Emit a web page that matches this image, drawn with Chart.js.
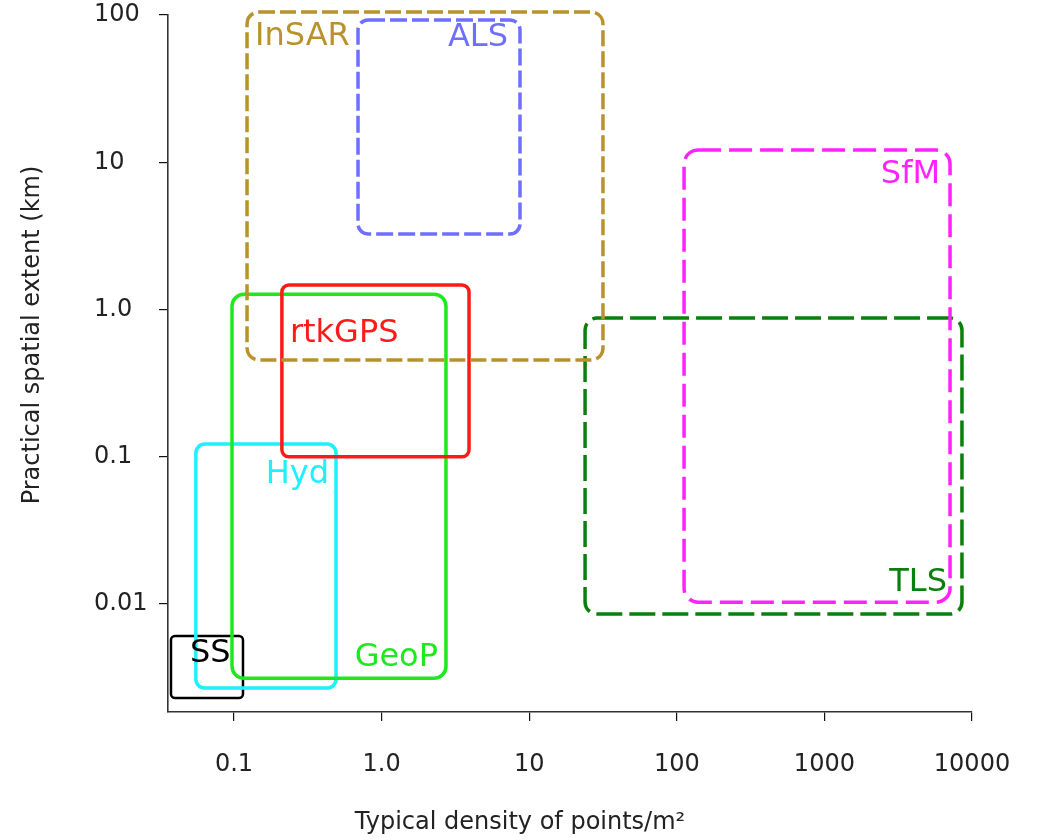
<!DOCTYPE html>
<html>
<head>
<meta charset="utf-8">
<script src="https://cdn.jsdelivr.net/npm/chart.js@4.4.0/dist/chart.umd.min.js"></script>
<style>
  html, body { margin: 0; padding: 0; background: #ffffff; }
  #wrap { width: 1038px; height: 840px; position: relative; }
</style>
</head>
<body>
<div id="wrap"><canvas id="c" width="1038" height="840"></canvas></div>
<script>
// ---- Data ----
const methods    = ['SS', 'Hyd', 'GeoP', 'rtkGPS', 'TLS', 'InSAR', 'ALS', 'SfM'];
const densityMin = [0.0374, 0.0551, 0.0969, 0.211, 23.9, 0.1225, 0.692, 112];
const densityMax = [0.115, 0.491, 2.73, 3.91, 8550, 31.6, 8.66, 7100];
const extentMin  = [0.0023, 0.00269, 0.00314, 0.1, 0.00855, 0.454, 3.26, 0.0103];
const extentMax  = [0.00607, 0.122, 1.27, 1.47, 0.875, 104.8, 92.5, 12.1];

const xTickValues = [0.1, 1, 10, 100, 1000, 10000];
const xTickLabels = ['0.1', '1.0', '10', '100', '1000', '10000'];
const yTickValues = [0.01, 0.1, 1, 10, 100];
const yTickLabels = ['0.01', '0.1', '1.0', '10', '100'];

const xTitle = 'Typical density of points/m²';
const yTitle = 'Practical spatial extent (km)';

// ---- Styles ----
const styles = {
  SS:     { color: '#000000', dash: [],       width: 2.5, radius: 4,  corner: 'tl', dx: 19,  dy: 26 },
  Hyd:    { color: '#1ff0ff', dash: [],       width: 3.5, radius: 9,  corner: 'tr', dx: -7,  dy: 39 },
  GeoP:   { color: '#1ee81e', dash: [],       width: 3.5, radius: 12, corner: 'br', dx: -8,  dy: -12 },
  rtkGPS: { color: '#ff1a1a', dash: [],       width: 3.5, radius: 7,  corner: 'tl', dx: 8,   dy: 57 },
  TLS:    { color: '#0b7f0b', dash: [26, 7],  width: 3.5, radius: 12, corner: 'br', dx: -15, dy: -23 },
  InSAR:  { color: '#b8922a', dash: [16, 5],  width: 3.5, radius: 12, corner: 'tl', dx: 8,   dy: 33 },
  ALS:    { color: '#6e6eff', dash: [17, 5],  width: 3.5, radius: 10, corner: 'tr', dx: -12, dy: 26 },
  SfM:    { color: '#ff22ff', dash: [23, 8],  width: 3.5, radius: 14, corner: 'tr', dx: -10, dy: 33 }
};

const FONT = '"DejaVu Sans", Verdana, sans-serif';

const datasets = methods.map((m, i) => ({
  label: m,
  data: [
    { x: densityMin[i], y: extentMin[i] },
    { x: densityMax[i], y: extentMax[i] }
  ],
  showLine: false,
  pointRadius: 0,
  pointHoverRadius: 0,
  borderColor: styles[m].color,
  backgroundColor: styles[m].color
}));

// Draws each dataset's extent as a rounded rectangle between its two corner points
const rangeBoxes = {
  id: 'rangeBoxes',
  afterDatasetsDraw(chart) {
    const ctx = chart.ctx;
    const boxes = [];
    chart.data.datasets.forEach((ds, i) => {
      const meta = chart.getDatasetMeta(i);
      const p0 = meta.data[0], p1 = meta.data[1];
      const L = Math.min(p0.x, p1.x), R = Math.max(p0.x, p1.x);
      const T = Math.min(p0.y, p1.y), B = Math.max(p0.y, p1.y);
      const s = styles[ds.label];
      ctx.save();
      ctx.strokeStyle = s.color;
      ctx.lineWidth = s.width;
      ctx.setLineDash(s.dash);
      ctx.beginPath();
      ctx.roundRect(L, T, R - L, B - T, s.radius);
      ctx.stroke();
      ctx.restore();
      boxes.push({ L, R, T, B, s, label: ds.label });
    });
    boxes.forEach(b => {
      ctx.save();
      ctx.font = '32px ' + FONT;
      ctx.fillStyle = b.s.color;
      ctx.textBaseline = 'alphabetic';
      let x, y;
      if (b.s.corner === 'tl') { ctx.textAlign = 'left';  x = b.L + b.s.dx; y = b.T + b.s.dy; }
      else if (b.s.corner === 'tr') { ctx.textAlign = 'right'; x = b.R + b.s.dx; y = b.T + b.s.dy; }
      else { ctx.textAlign = 'right'; x = b.R + b.s.dx; y = b.B + b.s.dy; }
      ctx.fillText(b.label, x, y);
      ctx.restore();
    });
    // axis titles
    ctx.save();
    ctx.fillStyle = '#222222';
    ctx.font = '24px ' + FONT;
    ctx.textAlign = 'center';
    ctx.textBaseline = 'middle';
    ctx.fillText(xTitle, 520, 823);
    ctx.translate(33, 335);
    ctx.rotate(-Math.PI / 2);
    ctx.fillText(yTitle, 0, 0);
    ctx.restore();
  }
};

new Chart(document.getElementById('c'), {
  type: 'scatter',
  data: { datasets },
  plugins: [rangeBoxes],
  options: {
    responsive: false,
    devicePixelRatio: 1,
    animation: false,
    events: [],
    layout: { padding: { left: 94, right: 66, top: 15, bottom: 0 } },
    plugins: { legend: { display: false }, tooltip: { enabled: false } },
    scales: {
      x: {
        type: 'logarithmic',
        position: 'bottom',
        min: 0.0357,
        max: 10000,
        afterBuildTicks: (scale) => { scale.ticks = xTickValues.map(v => ({ value: v })); },
        afterFit: (scale) => { scale.height = 128; scale.paddingLeft = 0; scale.paddingRight = 0; },
        grid: { drawOnChartArea: false, drawTicks: true, tickLength: 9, color: '#111111', lineWidth: 1.2 },
        border: { display: true, color: '#333333', width: 1.6 },
        ticks: {
          autoSkip: false,
          maxRotation: 0,
          padding: 29,
          color: '#222222',
          font: { family: FONT, size: 24 },
          callback: (value) => xTickLabels[xTickValues.indexOf(value)]
        },
        title: { display: false }
      },
      y: {
        type: 'logarithmic',
        position: 'left',
        min: 0.00185,
        max: 100,
        afterBuildTicks: (scale) => { scale.ticks = yTickValues.map(v => ({ value: v })); },
        afterFit: (scale) => { scale.width = 74; scale.paddingTop = 0; scale.paddingBottom = 0; },
        grid: { drawOnChartArea: false, drawTicks: true, tickLength: 9, color: '#111111', lineWidth: 1.2 },
        border: { display: true, color: '#333333', width: 1.6 },
        ticks: {
          autoSkip: false,
          crossAlign: 'far',
          padding: 8,
          color: '#222222',
          font: { family: FONT, size: 24 },
          callback: (value) => yTickLabels[yTickValues.indexOf(value)]
        },
        title: { display: false }
      }
    }
  }
});
</script>
</body>
</html>
